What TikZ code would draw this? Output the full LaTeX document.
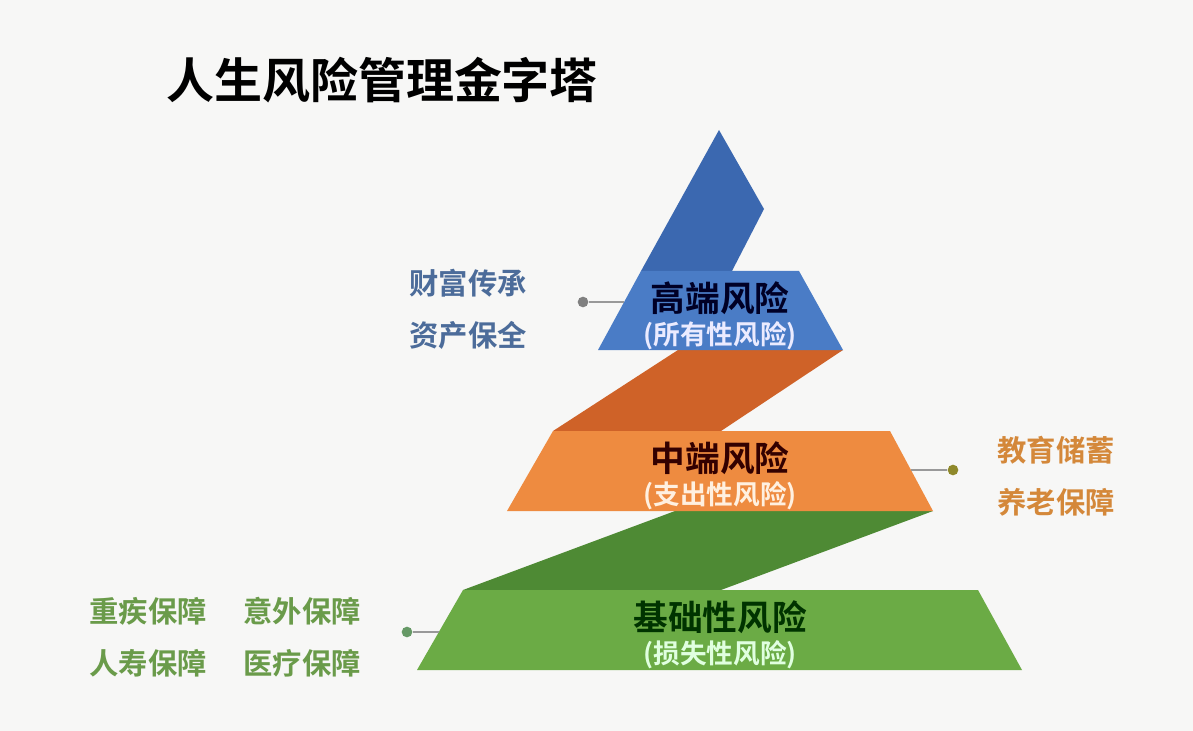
\documentclass[tikz,border=0pt]{standalone}
\usepackage{fontspec}
\setmainfont{Noto Sans CJK SC}[BoldFont={Noto Sans CJK SC Bold}]
\usepackage{xcolor}
\definecolor{colorBg}{HTML}{F7F7F6}
\definecolor{colorTopDark}{HTML}{3B68B0}
\definecolor{colorTop}{HTML}{4A7CC6}
\definecolor{colorMidDark}{HTML}{CF6228}
\definecolor{colorMid}{HTML}{EE8B40}
\definecolor{colorBaseDark}{HTML}{4E8A34}
\definecolor{colorBase}{HTML}{6BAB45}
\definecolor{colorTopText}{HTML}{4C6C9A}
\definecolor{colorMidText}{HTML}{D4883A}
\definecolor{colorBaseText}{HTML}{6A9B4A}
\usepackage{tikz}
\usetikzlibrary{positioning}
\tikzset{
  main/.style={font=\fontsize{26}{28}\selectfont\bfseries, inner sep=0pt},
  sub/.style={font=\fontsize{20}{22}\selectfont\bfseries, inner sep=0pt},
  side/.style={font=\fontsize{22}{24}\selectfont\bfseries, inner sep=0pt},
  dot/.style={circle, fill=#1, inner sep=0pt, minimum size=8pt},
  link/.style={draw=gray!80, line width=1pt}
}

\begin{document}
\begin{tikzpicture}[x=0.75pt, y=-0.75pt]
\fill[colorBg] (0,0) rectangle (1193,731);
\useasboundingbox (0,0) rectangle (1193,731);
\node[font=\fontsize{36}{38}\selectfont\bfseries, inner sep=0pt] (title) at (382,80) {人生风险管理金字塔};
% bands
\fill[colorBaseDark] (675,511) -- (933,511) -- (721,590) -- (463,590) -- cycle;
\fill[colorBase] (463,590) -- (978,590) -- (1022,670) -- (417,670) -- cycle;
\fill[colorMidDark] (678,350) -- (843,350) -- (721,431) -- (553,431) -- cycle;
\fill[colorMid] (553,431) -- (890,431) -- (933,511) -- (507,511) -- cycle;
\fill[colorTopDark] (719,130) -- (764,209) -- (732,271) -- (641,271) -- cycle;
\fill[colorTop] (641,271) -- (799,271) -- (843,350) -- (598,350) -- cycle;
% labels
\node[main, text=black!85!blue] (high) at (720,298) {高端风险};
\node[sub, text=white!92!blue, below=5pt of high] (highsub) {(所有性风险)};
\node[main, text=black!80!red] (mid) at (720,458) {中端风险};
\node[sub, text=white!88!orange, below=5pt of mid] (midsub) {(支出性风险)};
\node[main, text=black!80!green] (base) at (720,617) {基础性风险};
\node[sub, text=white!88!green, below=5pt of base] (basesub) {(损失性风险)};
% side notes
\node[side, text=colorTopText] (wealth) at (468,283) {财富传承};
\node[side, text=colorTopText, below=18pt of wealth] (asset) {资产保全};
\node[side, text=colorMidText] (edu) at (1056,450) {教育储蓄};
\node[side, text=colorMidText, below=18pt of edu] (pension) {养老保障};
\node[side, text=colorBaseText] (illness) at (148,611) {重疾保障};
\node[side, text=colorBaseText] (accident) at (302,611) {意外保障};
\node[side, text=colorBaseText, below=18pt of illness] (life) {人寿保障};
\node[side, text=colorBaseText, below=18pt of accident] (medical) {医疗保障};
% connectors
\node[dot=gray] (dhigh) at (583,302) {};
\coordinate (ehigh) at (624,302);
\node[dot=olive!70!gray] (dmid) at (953,470) {};
\coordinate (emid) at (911,470);
\node[dot=gray!80!green] (dbase) at (407,632) {};
\coordinate (ebase) at (439,632);
\draw[link] (dhigh) -- (ehigh);
\draw[link] (dmid) -- (emid);
\draw[link] (dbase) -- (ebase);
\end{tikzpicture}
\end{document}
